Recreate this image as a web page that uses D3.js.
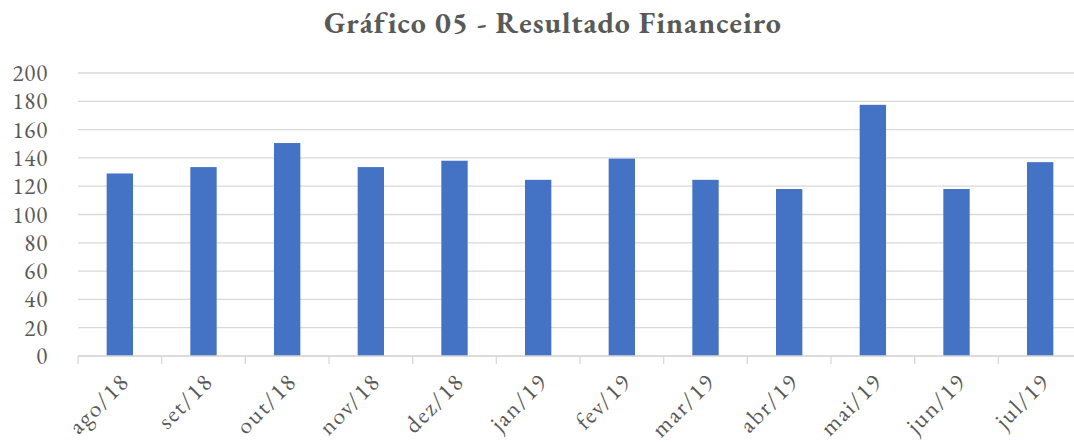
<!DOCTYPE html>
<html>

<head>
  <meta charset="UTF-8">
  <title>Gráfico 05</title>
  <script src="https://d3js.org/d3.v7.min.js"></script>
  <style>
    body { margin: 0; background: #fff; }
    svg { display: block; overflow: hidden; }
    text { font-family: "EB Garamond", Garamond, "Liberation Serif", serif; fill: #595959; }
  </style>
</head>

<body>
  <svg></svg>
</body>

<script>
  let width = 1074,
    height = 444;

  let months = ["ago/18", "set/18", "out/18", "nov/18", "dez/18", "jan/19",
    "fev/19", "mar/19", "abr/19", "mai/19", "jun/19", "jul/19"];
  let values = [129, 133.5, 150.5, 133.5, 138, 124.5, 139.5, 124.5, 118, 177.5, 118, 137];
  let yTicks = [0, 20, 40, 60, 80, 100, 120, 140, 160, 180, 200];

  let margin = { left: 78, top: 73, right: -8, bottom: 88 };

  let svg = d3.select("svg")
    .attr("width", width)
    .attr("height", height);

  let x = d3.scaleBand()
    .domain(months)
    .range([margin.left, width - margin.right])
    .paddingInner(0.685)
    .paddingOuter(0.3425);

  let y = d3.scaleLinear()
    .domain([0, 200])
    .range([height - margin.bottom, margin.top]);

  // gridlines
  svg.append("g")
    .selectAll("line")
    .data(yTicks)
    .enter()
    .append("line")
    .attr("x1", margin.left)
    .attr("x2", width - margin.right)
    .attr("y1", d => y(d))
    .attr("y2", d => y(d))
    .attr("stroke", "#d9d9d9")
    .attr("stroke-width", 1.3);

  // y labels
  svg.append("g")
    .selectAll("text")
    .data(yTicks)
    .enter()
    .append("text")
    .attr("x", 48)
    .attr("y", d => y(d))
    .attr("dy", "0.35em")
    .attr("text-anchor", "end")
    .style("font-size", "23px")
    .style("letter-spacing", "0.8px")
    .text(d => d);

  // bars
  svg.append("g")
    .selectAll("rect")
    .data(values)
    .enter()
    .append("rect")
    .attr("x", (d, i) => x(months[i]))
    .attr("width", x.bandwidth())
    .attr("y", d => y(d))
    .attr("height", d => y(0) - y(d))
    .attr("fill", "#4472c4");

  // x axis with ticks between categories
  let step = x.step();
  let xAxis = svg.append("g");
  xAxis.append("line")
    .attr("x1", margin.left)
    .attr("x2", width - margin.right)
    .attr("y1", y(0))
    .attr("y2", y(0))
    .attr("stroke", "#d9d9d9")
    .attr("stroke-width", 1.3);

  xAxis.selectAll(".tick")
    .data(d3.range(months.length + 1))
    .enter()
    .append("line")
    .attr("x1", i => margin.left + i * step)
    .attr("x2", i => margin.left + i * step)
    .attr("y1", y(0))
    .attr("y2", y(0) + 8)
    .attr("stroke", "#d9d9d9")
    .attr("stroke-width", 1.3);

  xAxis.selectAll("text")
    .data(months)
    .enter()
    .append("text")
    .attr("transform", d => "translate(" + (x(d) + x.bandwidth() / 2 + 5) + "," + (y(0) + 21) + ") rotate(-45)")
    .attr("text-anchor", "end")
    .attr("dy", "0.35em")
    .style("font-size", "24px")
    .style("letter-spacing", "1.6px")
    .text(d => d);

  // title
  svg.append("text")
    .attr("x", 553)
    .attr("y", 33)
    .attr("text-anchor", "middle")
    .style("font-size", "30px")
    .style("font-weight", "bold")
    .style("letter-spacing", "1px")
    .text("Gráfico 05 - Resultado Financeiro");
</script>

</html>
